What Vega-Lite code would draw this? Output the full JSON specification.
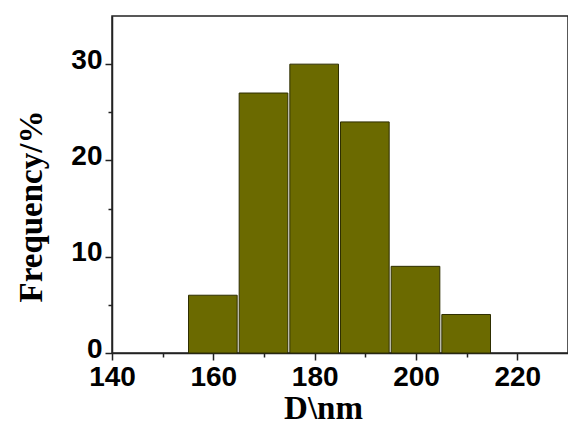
{
  "$schema": "https://vega.github.io/schema/vega-lite/v6.json",
  "width": 456,
  "height": 337,
  "autosize": {"type": "none"},
  "padding": {"left": 112, "top": 16, "right": 0, "bottom": 75},
  "background": "white",
  "config": {
    "view": {"stroke": "#222222", "strokeWidth": 1.5},
    "axis": {
      "domainColor": "#222222",
      "domainWidth": 1.5,
      "tickColor": "#222222",
      "tickWidth": 1.5,
      "grid": false,
      "labelFont": "Liberation Sans",
      "labelFontWeight": "bold",
      "labelFontSize": 28,
      "labelColor": "black",
      "titleFont": "Liberation Serif",
      "titleFontWeight": "bold",
      "titleFontSize": 33,
      "titleColor": "black"
    }
  },
  "data": {
    "values": [
      {"start": 155, "end": 165, "freq": 6},
      {"start": 165, "end": 175, "freq": 27},
      {"start": 175, "end": 185, "freq": 30},
      {"start": 185, "end": 195, "freq": 24},
      {"start": 195, "end": 205, "freq": 9},
      {"start": 205, "end": 215, "freq": 4}
    ]
  },
  "layer": [
    {
      "mark": {"type": "bar", "color": "#6b6a00", "stroke": "#2e2e00", "strokeWidth": 1, "x2Offset": -1.5, "xOffset": 0.5},
      "encoding": {
        "x": {
          "field": "start", "type": "quantitative",
          "scale": {"domain": [140, 230], "nice": false, "zero": false},
          "axis": {"orient": "bottom", "values": [140, 160, 180, 200, 220], "tickSize": 7, "labelPadding": 3, "title": "D\\nm", "titlePadding": 1, "titleX": 211, "titleAnchor": "middle", "labelFlush": false}
        },
        "x2": {"field": "end"},
        "y": {
          "field": "freq", "type": "quantitative",
          "scale": {"domain": [0, 35], "nice": false},
          "axis": {"orient": "left", "values": [0, 10, 20, 30], "tickSize": 7, "labelPadding": 3, "labelOffset": -4, "title": "Frequency/%", "titlePadding": 22, "titleY": 190, "titleAnchor": "middle", "labelFlush": false}
        },
        "y2": {"datum": 0}
      }
    },
    {
      "mark": {"type": "bar", "opacity": 0},
      "encoding": {
        "x": {
          "field": "start", "type": "quantitative",
          "scale": {"domain": [140, 230], "nice": false, "zero": false},
          "axis": {"orient": "bottom", "values": [150, 170, 190, 210], "tickSize": 4, "labels": false, "title": null, "domain": false}
        },
        "x2": {"field": "end"},
        "y": {
          "field": "freq", "type": "quantitative",
          "scale": {"domain": [0, 35], "nice": false},
          "axis": {"orient": "left", "values": [5, 15, 25], "tickSize": 4, "labels": false, "title": null, "domain": false}
        },
        "y2": {"datum": 0}
      }
    }
  ],
  "resolve": {"axis": {"x": "independent", "y": "independent"}}
}
